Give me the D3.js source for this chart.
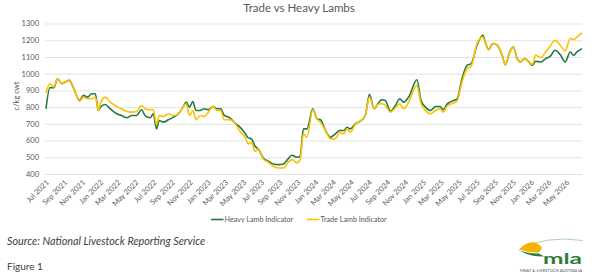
<!DOCTYPE html>
<html>
<head>
<meta charset="utf-8">
<script src="https://cdn.jsdelivr.net/npm/d3@7"></script>
<style>
  body { margin: 0; background: #fff; }
  text { font-family: Lato, "Open Sans", sans-serif; }
</style>
</head>
<body>
<div id="chart"></div>
<script>
var svgWidth = 601;
var svgHeight = 280;

// weekly-ish readings, c/kg cwt
var dates = ["2021-07-01","2021-07-14","2021-07-28","2021-08-09","2021-08-24","2021-09-04","2021-09-18","2021-10-02","2021-10-23","2021-11-05",
  "2021-11-19","2021-12-03","2021-12-15","2021-12-26","2022-01-01","2022-01-18","2022-02-04","2022-02-26","2022-03-14","2022-04-01",
  "2022-04-18","2022-05-04","2022-05-21","2022-06-02","2022-06-19","2022-06-30","2022-07-11","2022-07-20","2022-08-03","2022-08-20",
  "2022-09-06","2022-09-23","2022-10-10","2022-10-19","2022-10-31","2022-11-11","2022-11-22","2022-12-06","2022-12-19","2023-01-03",
  "2023-01-18","2023-02-01","2023-02-13","2023-02-26","2023-03-17","2023-04-03","2023-04-20","2023-05-07","2023-05-18","2023-05-29",
  "2023-06-10","2023-06-21","2023-07-08","2023-07-25","2023-08-11","2023-08-28","2023-09-15","2023-09-28","2023-10-13","2023-10-30",
  "2023-11-10","2023-11-21","2023-12-03","2023-12-23","2024-01-06","2024-01-18","2024-02-04","2024-02-21","2024-03-08","2024-03-23",
  "2024-04-06","2024-04-17","2024-04-28","2024-05-15","2024-06-01","2024-06-18","2024-07-02","2024-07-18","2024-07-29","2024-08-13",
  "2024-08-25","2024-09-11","2024-09-28","2024-10-13","2024-10-26","2024-11-12","2024-12-10","2024-12-24","2025-01-08","2025-01-25",
  "2025-02-12","2025-02-26","2025-03-10","2025-03-21","2025-04-08","2025-04-25","2025-05-12","2025-05-29","2025-06-12","2025-07-02",
  "2025-07-22","2025-07-30","2025-08-10","2025-08-25","2025-09-08","2025-09-25","2025-10-06","2025-10-21","2025-11-02","2025-11-15",
  "2025-11-26","2025-12-10","2025-12-25","2026-01-06","2026-01-17","2026-02-03","2026-02-20","2026-03-07","2026-03-24","2026-04-10",
  "2026-04-27","2026-05-14","2026-05-25","2026-06-06","2026-06-23"];

var heavyLamb = [790,916,916,970,940,950,960,916,840,870,
  860,880,880,780,800,816,790,760,750,736,
  750,750,784,750,736,760,670,720,710,724,
  740,760,804,830,800,834,780,780,790,784,
  804,790,790,750,736,704,680,644,616,610,
  566,550,496,476,460,456,460,486,512,500,
  506,670,670,790,730,724,660,620,640,660,
  660,680,670,700,716,750,876,790,816,844,
  840,776,810,850,830,860,964,840,800,780,
  804,804,784,816,836,848,970,1050,1060,1170,
  1230,1190,1144,1180,1170,1110,1054,1130,1160,1090,
  1070,1090,1070,1050,1074,1070,1090,1104,1140,1114,
  1070,1130,1110,1130,1150];

var tradeLamb = [884,940,920,970,940,950,960,916,835,860,
  850,850,860,780,820,860,830,804,790,774,
  770,774,810,790,784,784,696,750,744,760,
  750,760,804,820,750,780,724,750,744,770,
  804,780,780,724,724,704,656,620,580,590,
  536,550,490,470,446,436,436,466,486,466,
  486,640,620,784,730,710,660,610,610,650,
  640,670,650,696,716,750,860,790,816,820,
  810,770,796,820,790,830,930,820,780,760,
  780,790,770,804,820,836,950,1030,1044,1180,
  1220,1190,1144,1180,1170,1110,1054,1130,1160,1090,
  1070,1090,1070,1056,1110,1096,1130,1164,1200,1170,
  1136,1210,1204,1220,1244];

var yTicks = [400,500,600,700,800,900,1000,1100,1200,1300];

var seriesNames = ["Heavy Lamb Indicator", "Trade Lamb Indicator"];
var seriesColors = ["#217a3f", "#ffc000"];

var parseDate = d3.timeParse("%Y-%m-%d");
var formatTick = d3.timeFormat("%b %Y");

var plot = { left: 45, right: 582, top: 23.5, bottom: 174 };

var svg = d3.select("#chart")
    .append("svg")
    .attr("width", svgWidth)
    .attr("height", svgHeight);

var x = d3.scaleTime()
    .domain([parseDate("2021-07-01"), parseDate("2026-06-23")])
    .range([46, plot.right]);

var y = d3.scaleLinear()
    .domain([400, 1300])
    .range([plot.bottom, plot.top]);

// title
svg.append("text")
    .attr("x", 299)
    .attr("y", 12)
    .attr("text-anchor", "middle")
    .attr("font-size", 11.5)
    .attr("fill", "#595959")
    .text("Trade vs Heavy Lambs");

// gridlines + y labels
var leftAxis = d3.axisLeft(y)
    .tickValues(yTicks)
    .tickFormat(d3.format("d"))
    .tickSize(-(plot.right - plot.left))
    .tickPadding(6);

var yAxis = svg.append("g")
    .attr("transform", `translate(${plot.left}, 0)`)
    .call(leftAxis);

yAxis.select(".domain").remove();
yAxis.selectAll(".tick line")
    .attr("stroke", "#d9d9d9")
    .attr("stroke-width", 0.8);
yAxis.selectAll(".tick text")
    .attr("font-family", "Lato, 'Open Sans', sans-serif")
    .attr("font-size", 7.5)
    .attr("fill", "#595959");

svg.append("text")
    .attr("transform", "translate(19, 96) rotate(-90)")
    .attr("text-anchor", "middle")
    .attr("font-size", 7.5)
    .attr("fill", "#595959")
    .text("c/kg cwt");

// x axis, every 2 months
var bottomAxis = d3.axisBottom(x)
    .tickValues(d3.timeMonth.every(2).range(parseDate("2021-07-01"), parseDate("2026-06-01")))
    .tickFormat(formatTick)
    .tickSize(0);

var xAxis = svg.append("g")
    .attr("transform", `translate(0, ${plot.bottom})`)
    .call(bottomAxis);

xAxis.select(".domain").remove();
xAxis.selectAll(".tick text")
    .attr("font-family", "Lato, 'Open Sans', sans-serif")
    .attr("font-size", 7.5)
    .attr("fill", "#595959")
    .attr("y", 0)
    .attr("dy", 0)
    .attr("transform", "translate(3, 9) rotate(-45)")
    .style("text-anchor", "end");

// lines
var rows = dates.map((d, i) => ({
    date: parseDate(d),
    heavy: heavyLamb[i],
    trade: tradeLamb[i]
}));

var lineHeavy = d3.line()
    .x(d => x(d.date))
    .y(d => y(d.heavy))
    .curve(d3.curveMonotoneX);

var lineTrade = d3.line()
    .x(d => x(d.date))
    .y(d => y(d.trade))
    .curve(d3.curveMonotoneX);

svg.append("path")
    .datum(rows)
    .attr("d", lineHeavy)
    .attr("fill", "none")
    .attr("stroke", seriesColors[0])
    .attr("stroke-width", 1.6)
    .attr("stroke-linejoin", "round");

svg.append("path")
    .datum(rows)
    .attr("d", lineTrade)
    .attr("fill", "none")
    .attr("stroke", seriesColors[1])
    .attr("stroke-width", 1.6)
    .attr("stroke-linejoin", "round");

// legend
var legendX = [211, 307];
seriesNames.forEach((name, i) => {
    var g = svg.append("g").attr("transform", `translate(${legendX[i]}, 219.5)`);
    g.append("line")
        .attr("x1", 0).attr("x2", 12.5)
        .attr("stroke", seriesColors[i])
        .attr("stroke-width", 1.6);
    g.append("text")
        .attr("x", 13.5)
        .attr("y", 2.6)
        .attr("font-size", 7.2)
        .attr("fill", "#595959")
        .text(name);
});

// source + figure caption
svg.append("text")
    .attr("x", 7)
    .attr("y", 245)
    .attr("font-size", 10.8)
    .attr("font-style", "italic")
    .attr("fill", "#404040")
    .text("Source: National Livestock Reporting Service");

svg.append("text")
    .attr("x", 7)
    .attr("y", 270)
    .attr("font-size", 10)
    .attr("fill", "#404040")
    .text("Figure 1");

// mla logo
var logo = svg.append("g");
logo.append("path")
    .attr("d", "M519,250 Q545,235 583,240.5")
    .attr("fill", "none")
    .attr("stroke", "#9cc79a")
    .attr("stroke-width", 0.8);
logo.append("path")
    .attr("d", "M519,249.5 Q527,241 535,242.5 Q540,244 542,248 L539,252.5 Q529,253 519,249.5 Z")
    .attr("fill", "#f5b400");
logo.append("path")
    .attr("d", "M519,250.5 Q530,254 539,253.5 L544,256.5 Q530,257 519,250.5 Z")
    .attr("fill", "#2e7d3a");
logo.append("text")
    .attr("x", 543)
    .attr("y", 264)
    .attr("font-size", 15)
    .attr("font-weight", "bold")
    .attr("fill", "#2e7d3a")
    .attr("textLength", 39)
    .attr("lengthAdjust", "spacingAndGlyphs")
    .text("mla");
logo.append("text")
    .attr("x", 520)
    .attr("y", 271.5)
    .attr("font-size", 3.6)
    .attr("fill", "#555")
    .attr("textLength", 62)
    .attr("lengthAdjust", "spacingAndGlyphs")
    .text("MEAT & LIVESTOCK AUSTRALIA");
</script>
</body>
</html>
